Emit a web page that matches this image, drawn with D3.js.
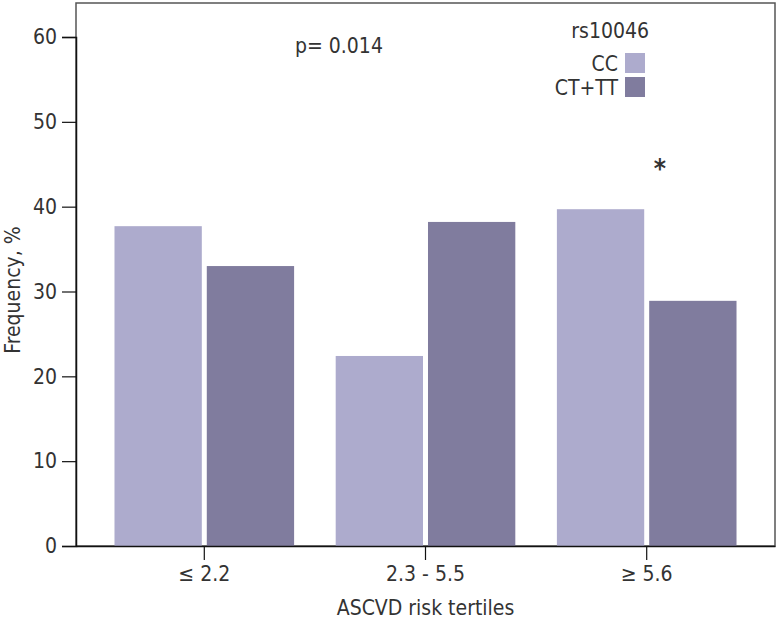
<!DOCTYPE html>
<html>
<head>
<meta charset="utf-8">
<script src="https://cdn.jsdelivr.net/npm/d3@7"></script>
<style>
  body { margin: 0; background: #fff; }
  text { font-family: "Liberation Sans Narrow", "DejaVu Sans Condensed", sans-serif; fill: #333; }
</style>
</head>
<body>
<div id="chart"></div>
<script>
// data
var tertiles = ["≤ 2.2", "2.3 - 5.5", "≥ 5.6"];
var genotypes = ["CC", "CT+TT"];
var ccValues = [37.7, 22.4, 39.7];
var ctttValues = [33.0, 38.2, 28.9];
var yTicks = [0, 10, 20, 30, 40, 50, 60];
var colors = ["#adabcd", "#807c9e"];

var width = 778,
    height = 622;
var margin = {left: 76, right: 3, top: 3, bottom: 76};

var svg = d3.select("#chart").append("svg")
    .attr("width", width)
    .attr("height", height);

var x0 = d3.scaleBand()
    .domain(tertiles)
    .range([margin.left, width - margin.right])
    .paddingInner(0.188)
    .paddingOuter(0.174);

var x1 = d3.scaleBand()
    .domain(genotypes)
    .range([0, x0.bandwidth()])
    .paddingInner(0.054);

var y = d3.scaleLinear()
    .domain([0, 60])
    .range([546, 37]);

var color = d3.scaleOrdinal().domain(genotypes).range(colors);

// frame (top + right)
svg.append("rect")
    .attr("x", margin.left)
    .attr("y", margin.top)
    .attr("width", width - margin.right - margin.left)
    .attr("height", y(0) - margin.top)
    .attr("fill", "none")
    .attr("stroke", "#555")
    .attr("stroke-width", 1.5);

// bars
var rows = tertiles.map(function(t, i) {
  return {t: t, vals: [ccValues[i], ctttValues[i]]};
});

var groups = svg.selectAll("g.grp")
    .data(rows)
    .enter().append("g")
    .attr("class", "grp")
    .attr("transform", function(d) { return "translate(" + x0(d.t) + ",0)"; });

groups.selectAll("rect")
    .data(function(d) { return d.vals.map(function(v, j) { return {g: genotypes[j], v: v}; }); })
    .enter().append("rect")
    .attr("x", function(d) { return x1(d.g); })
    .attr("y", function(d) { return y(d.v); })
    .attr("width", x1.bandwidth())
    .attr("height", function(d) { return y(0) - y(d.v); })
    .attr("fill", function(d) { return color(d.g); });

// axes
var yAxis = svg.append("g")
    .attr("transform", "translate(" + margin.left + ",0)")
    .call(d3.axisLeft(y).tickValues(yTicks).tickSize(14).tickPadding(5));
yAxis.select(".domain").attr("stroke", "#111").attr("stroke-width", 1.5);
yAxis.selectAll(".tick line").attr("stroke", "#111").attr("stroke-width", 1.2);
yAxis.selectAll(".tick text").attr("font-size", 21).attr("fill", "#333")
    .attr("font-family", "'Liberation Sans Narrow', 'DejaVu Sans Condensed', sans-serif");

var xAxis = svg.append("g")
    .attr("transform", "translate(0," + y(0) + ")")
    .call(d3.axisBottom(x0).tickSize(14).tickSizeOuter(0).tickPadding(6));
xAxis.select(".domain").attr("stroke", "#111").attr("stroke-width", 1.5);
xAxis.selectAll(".tick line").attr("stroke", "#111").attr("stroke-width", 1.2);
xAxis.selectAll(".tick text").attr("font-size", 21).attr("fill", "#333")
    .attr("font-family", "'Liberation Sans Narrow', 'DejaVu Sans Condensed', sans-serif");

// axis titles
svg.append("text")
    .attr("x", (margin.left + width - margin.right) / 2)
    .attr("y", 615)
    .attr("text-anchor", "middle")
    .attr("font-size", 21)
    .text("ASCVD risk tertiles");

svg.append("text")
    .attr("transform", "translate(20,290) rotate(-90)")
    .attr("text-anchor", "middle")
    .attr("font-size", 21)
    .text("Frequency, %");

// p value
svg.append("text")
    .attr("x", 295)
    .attr("y", 53)
    .attr("font-size", 21)
    .text("p= 0.014");

// legend
svg.append("text")
    .attr("x", 649)
    .attr("y", 38)
    .attr("text-anchor", "end")
    .attr("font-size", 21)
    .text("rs10046");

var leg = svg.selectAll("g.leg")
    .data(genotypes)
    .enter().append("g")
    .attr("class", "leg")
    .attr("transform", function(d, i) { return "translate(0," + (53 + i * 24) + ")"; });
leg.append("rect")
    .attr("x", 625)
    .attr("width", 20)
    .attr("height", 20)
    .attr("fill", function(d) { return color(d); });
leg.append("text")
    .attr("x", 618)
    .attr("y", 18)
    .attr("text-anchor", "end")
    .attr("font-size", 21)
    .text(function(d) { return d; });

// significance mark
svg.append("text")
    .attr("x", x0(tertiles[2]) + x1("CT+TT") + x1.bandwidth() / 2 - 33)
    .attr("y", 178)
    .attr("text-anchor", "middle")
    .attr("font-size", 26)
    .attr("font-weight", "bold")
    .attr("fill", "#111")
    .text("*");
</script>
</body>
</html>
